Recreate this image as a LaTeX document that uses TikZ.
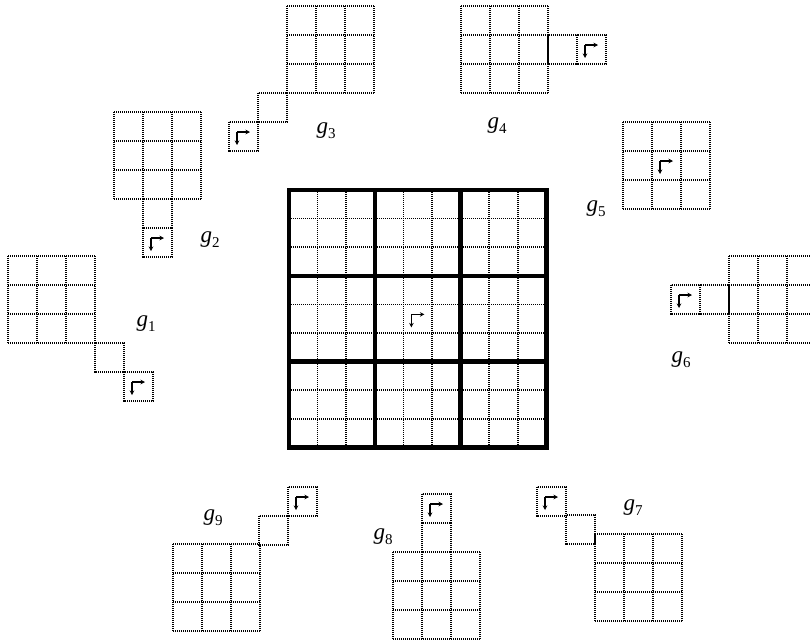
\documentclass[tikz,border=0pt]{standalone}
\usepackage{fontspec}
\setmainfont{Liberation Serif}
\usepackage{tikz}
\usetikzlibrary{arrows.meta}

\newcommand{\glab}[1]{\textit{g}\raisebox{-5pt}{\fontsize{15}{15}\selectfont #1}}
\newcommand{\cellat}[2]{\draw[cellbox] (#1,#2) rectangle ++(29,29);}
\newcommand{\turnat}[2]{%
  \draw[turn] (#1+8,#2+10) -- ++(0,13);
  \draw[turn] (#1+8,#2+10) -- ++(13,0);}
\newcommand{\smallgrid}[2]{%
  \foreach \k in {0,1,2,3}{
    \draw[cellbox] (#1+29*\k,#2) -- ++(0,87);
    \draw[cellbox] (#1,#2+29*\k) -- ++(87,0);}}

\begin{document}
\begin{tikzpicture}[x=1pt, y=-1pt,
  cellbox/.style={line width=1.4pt, dash pattern=on 1.2pt off 0.8pt},
  thinline/.style={line width=1.5pt, dash pattern=on 1.3pt off 0.7pt},
  thickline/.style={line width=4.5pt},
  turn/.style={line width=1.2pt, -{Stealth[length=4.5pt,width=4.5pt]}},
  glabel/.style={font=\fontsize{23}{25}\selectfont, inner sep=0pt}
]
\useasboundingbox (0,0) rectangle (810,641);
\clip (0,0) rectangle (810,641);

% big grid
\foreach \k in {1,...,8}{
  \draw[thinline] (289+28.6*\k,190) -- (289+28.6*\k,447.4);
  \draw[thinline] (289,190+28.6*\k) -- (546.4,190+28.6*\k);
}
\foreach \k in {3,6}{
  \draw[thickline] (289+28.6*\k,190) -- (289+28.6*\k,447.4);
  \draw[thickline] (289,190+28.6*\k) -- (546.4,190+28.6*\k);
}
\draw[thickline] (289,190) rectangle (546.4,447.4);
\turnat{403.4}{304.4}

% small grids
\smallgrid{8}{256}   \cellat{95}{343}  \cellat{124}{372} \turnat{124}{372}
\smallgrid{114}{112} \cellat{143}{199} \cellat{143}{228} \turnat{143}{228}
\smallgrid{287}{6}   \cellat{258}{93}  \cellat{229}{122} \turnat{229}{122}
\smallgrid{461}{6}   \cellat{548}{35}  \cellat{577}{35}  \turnat{577}{35}
\smallgrid{623}{122} \turnat{652}{151}
\smallgrid{729}{256} \cellat{700}{285} \cellat{671}{285} \turnat{671}{285}
\smallgrid{595}{534} \cellat{566}{515} \cellat{537}{487} \turnat{537}{487}
\smallgrid{393}{552} \cellat{422}{523} \cellat{422}{494} \turnat{422}{494}
\smallgrid{173}{544} \cellat{259}{516} \cellat{288}{487} \turnat{288}{487}

% labels
\node[glabel] (g1) at (146,324) {\glab{1}};
\node[glabel] (g2) at (210,240) {\glab{2}};
\node[glabel] (g3) at (326,131) {\glab{3}};
\node[glabel] (g4) at (497,126) {\glab{4}};
\node[glabel] (g5) at (596,209) {\glab{5}};
\node[glabel] (g6) at (681,360) {\glab{6}};
\node[glabel] (g7) at (633,508) {\glab{7}};
\node[glabel] (g8) at (383,537) {\glab{8}};
\node[glabel] (g9) at (213,518) {\glab{9}};

\end{tikzpicture}
\end{document}
